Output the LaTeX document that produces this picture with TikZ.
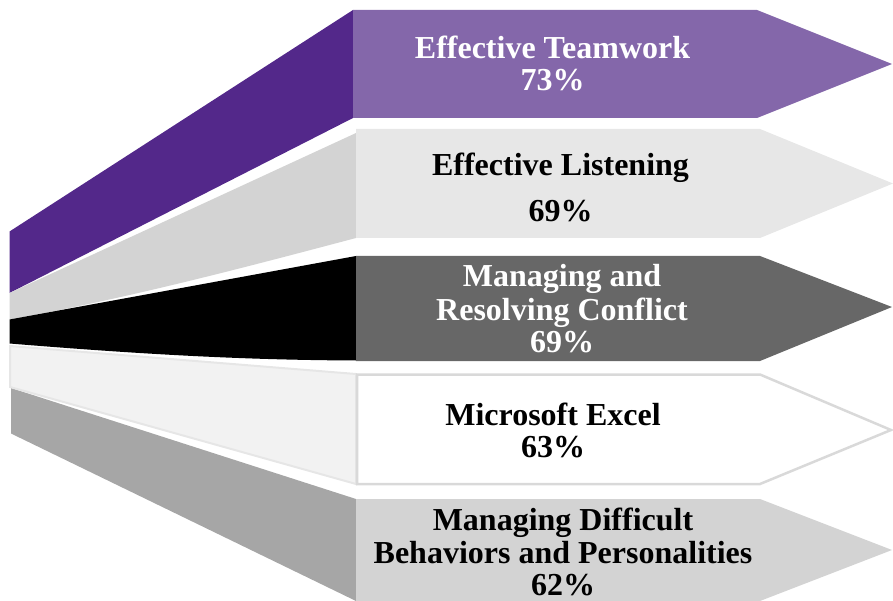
\documentclass[tikz,border=0pt]{standalone}
\usepackage{fontspec}
\setmainfont{Liberation Serif}
\definecolor{purpleA}{HTML}{8467AA}
\definecolor{purpleS}{HTML}{53288A}
\definecolor{greyA}{HTML}{E7E7E7}
\definecolor{greyS}{HTML}{D3D3D3}
\definecolor{darkA}{HTML}{676767}
\definecolor{lineE}{HTML}{D9D9D9}
\definecolor{paleS}{HTML}{F2F2F2}
\definecolor{paleE}{HTML}{E6E6E6}
\definecolor{lightA}{HTML}{D3D3D3}
\definecolor{midS}{HTML}{A6A6A6}
\tikzset{
  lbl/.style={font=\fontsize{32}{33}\selectfont\bfseries, inner sep=0pt, anchor=base},
}
\begin{document}
\begin{tikzpicture}[x=1pt,y=-1pt]
\useasboundingbox (0,0) rectangle (893,601);

% slanted side panels
\fill[purpleS] (353,10) -- (353,118) -- (9.5,293) -- (9.5,231.5) -- cycle;
\fill[greyS] (356,133) -- (356,238) .. controls (250,266) and (130,298) .. (9.5,319.5) -- (9.5,293) -- cycle;
\fill[black] (356,256) -- (356,360.5) .. controls (250,360) and (150,355) .. (9.5,343.5) -- (9.5,319.5) -- cycle;
\fill[midS] (11,388) -- (356,499) -- (356,601) -- (11,433.5) -- cycle;
\filldraw[fill=paleS, draw=paleE, line width=2pt] (10,346) -- (356,374) -- (356,484) -- (10,387) -- cycle;

% arrows
\fill[purpleA] (353,10) -- (757,10) -- (892,64) -- (757,118) -- (353,118) -- cycle;
\fill[greyA] (356,129) -- (760,129) -- (893,183.5) -- (760,238) -- (356,238) -- cycle;
\fill[darkA] (356,256) -- (760,256) -- (892,307) -- (760,361) -- (356,361) -- cycle;
\filldraw[fill=white, draw=lineE, line width=2.5pt] (357,374.5) -- (760,374.5) -- (891,430) -- (760,484) -- (357,484) -- cycle;
\fill[lightA] (356,499) -- (760,499) -- (892,550) -- (760,601) -- (356,601) -- cycle;

% labels
\node[lbl, text=white] (t1a) at (552.5,58.5) {Effective Teamwork};
\node[lbl, text=white] (t1b) at (552.5,91) {73\%};
\node[lbl] (t2a) at (560.5,176) {Effective Listening};
\node[lbl] (t2b) at (560.5,222) {69\%};
\node[lbl, text=white] (t3a) at (562,287) {Managing and};
\node[lbl, text=white] (t3b) at (562,320) {Resolving Conflict};
\node[lbl, text=white] (t3c) at (562,352) {69\%};
\node[lbl] (t4a) at (553,425) {Microsoft Excel};
\node[lbl] (t4b) at (553,457) {63\%};
\node[lbl] (t5a) at (563,530) {Managing Difficult};
\node[lbl] (t5b) at (563,563) {Behaviors and Personalities};
\node[lbl] (t5c) at (563,595) {62\%};
\end{tikzpicture}
\end{document}
